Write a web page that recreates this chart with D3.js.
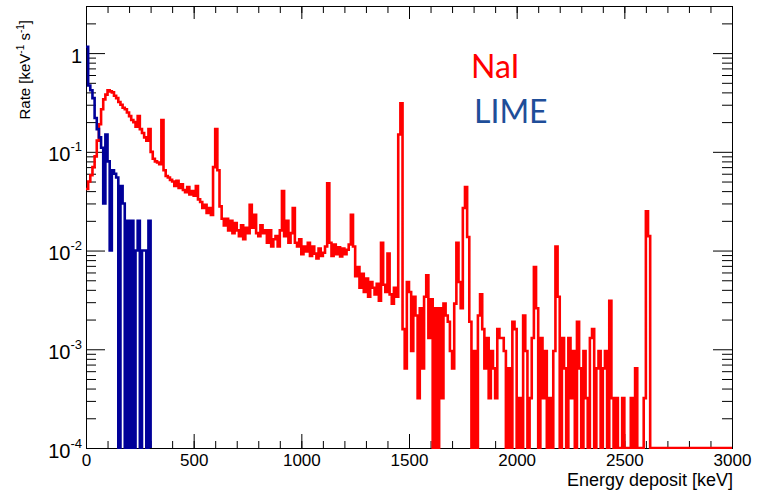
<!DOCTYPE html>
<html><head><meta charset="utf-8">
<script src="https://cdn.jsdelivr.net/npm/d3@7"></script>
<style>body{margin:0;background:#fff}svg{display:block}</style>
</head><body>
<svg id="chart" width="762" height="490"></svg>
<script>
// ---------------- data ----------------
const binWidth = 10; // keV
const naiRate = [
 0.042,0.05,0.058,0.07,0.09,0.13,0.19,0.27,0.34,0.38,
 0.42,0.41,0.40,0.37,0.35,0.32,0.30,0.28,0.27,0.25,
 0.23,0.21,0.20,0.18,0.23,0.17,0.155,0.14,0.13,0.17,
 0.10,0.085,0.08,0.078,0.075,0.21,0.065,0.057,0.055,0.052,
 0.05,0.045,0.051,0.043,0.047,0.041,0.039,0.044,0.037,0.04,
 0.036,0.045,0.033,0.031,0.027,0.029,0.024,0.027,0.023,0.07,
 0.17,0.065,0.028,0.021,0.018,0.021,0.016,0.02,0.015,0.019,
 0.016,0.014,0.018,0.013,0.017,0.015,0.029,0.017,0.023,0.015,
 0.014,0.018,0.015,0.016,0.012,0.016,0.011,0.013,0.014,0.011,
 0.016,0.04,0.014,0.02,0.012,0.015,0.027,0.012,0.011,0.013,
 0.0092,0.011,0.0098,0.012,0.0088,0.011,0.0093,0.0083,0.0105,0.0088,
 0.0095,0.011,0.048,0.012,0.0088,0.0115,0.0092,0.0108,0.0087,0.0105,
 0.0092,0.0102,0.0115,0.023,0.011,0.0055,0.0068,0.0042,0.0058,0.0038,
 0.0052,0.0034,0.0048,0.0042,0.0036,0.0046,0.0031,0.012,0.0045,0.0038,
 0.0093,0.0036,0.0029,0.0042,0.0034,0.15,0.31,0.0016,0.00064,0.0048,
 0.0038,0.00096,0.0034,0.0022,0.00032,0.0026,0.00064,0.0034,0.0056,0.0013,
 0.0032,0,0.0026,0,0.0026,0.00032,0.0029,0.0022,0.0019,0.00096,
 0.00064,0.0029,0.012,0.0048,0.0026,0.027,0.044,0.0137,0.0019,0,
 0.00096,0,0.0022,0.0036,0.0016,0.00064,0.0013,0.00032,0.00096,0.00064,
 0.00032,0.0016,0.0013,0.0013,0.00096,0,0.00064,0,0.0019,0.0016,
 0,0.00032,0,0.0022,0.00096,0,0.00032,0.0013,0.0068,0.0026,
 0,0.0013,0.00032,0.00096,0,0.00032,0,0.00096,0.011,0.0034,
 0,0.0013,0.00064,0,0.0013,0.00032,0.00096,0,0.0019,0.00064,
 0,0.00096,0.00032,0,0.0013,0.0016,0,0.00064,0.00096,0,
 0.00064,0.00096,0,0.0031,0.00032,0,0.00032,0,0,0.00032,
 0,0,0,0.00032,0,0.00064,0,0,0,0.00032,
 0.025,0.014,0,0,0,0,0,0,0,0,
 0,0,0,0,0,0,0,0,0,0,
 0,0,0,0,0,0,0,0,0,0,
 0,0,0,0,0,0,0,0,0,0
];
const limeRate = [
 1.16,0.47,0.42,0.35,0.22,0.17,0.14,0.11,0.03,0.15,
 0.08,0.01,0.065,0.06,0.055,0,0.045,0.03,0,0.02,
 0,0.02,0,0.01,0.02,0,0.01,0.01,0,0.02
];
const seriesNames = ["NaI","LIME"];
const xMajorTicks = [0,500,1000,1500,2000,2500,3000];
const xTickLabels = ["0","500","1000","1500","2000","2500","3000"];
const yMajorTicks = [1e-4,1e-3,1e-2,1e-1,1];
const yTickLabels = [["10","-4"],["10","-3"],["10","-2"],["10","-1"],["1",""]];
const xTitle = "Energy deposit [keV]";

// ---------------- chart ----------------
const L=86,R=732,T=6,B=448;
const yMin = 1e-4, yMax = 3;
const x = d3.scaleLinear().domain([0,3000]).range([L,R]);
const y = d3.scaleLog().domain([yMin,yMax]).range([B,T]);
const svg = d3.select("#chart");
const font = "'Liberation Sans', Arial, Helvetica, sans-serif";

svg.append("defs").append("clipPath").attr("id","clip")
  .append("rect").attr("x",L).attr("y",T).attr("width",R-L).attr("height",B-T+1);

const xMinor = d3.range(0,3001,100);
const yMinor = [];
for (let k=-4;k<=0;k++) for (let m=2;m<=9;m++){ const v=m*Math.pow(10,k); if(v<=yMax) yMinor.push(v); }

function clean(g){ g.select(".domain").remove(); g.selectAll("line").attr("stroke","#000"); }

// bottom
const gb = svg.append("g").attr("transform",`translate(0,${B})`);
gb.append("g").call(d3.axisBottom(x).tickValues(xMinor).tickSize(-7).tickFormat("")).call(clean);
gb.append("g").call(d3.axisBottom(x).tickValues(xMajorTicks).tickSize(-14).tickPadding(6)
   .tickFormat((d,i)=>xTickLabels[i])).call(clean)
   .selectAll("text").attr("font-family",font).attr("font-size",17).attr("fill","#000");
// top
const gt = svg.append("g").attr("transform",`translate(0,${T})`);
gt.append("g").call(d3.axisTop(x).tickValues(xMinor).tickSize(-7).tickFormat("")).call(clean);
gt.append("g").call(d3.axisTop(x).tickValues(xMajorTicks).tickSize(-13).tickFormat("")).call(clean);
// left
const gl = svg.append("g").attr("transform",`translate(${L},0)`);
gl.append("g").call(d3.axisLeft(y).tickValues(yMinor).tickSize(-10).tickFormat("")).call(clean);
gl.append("g").call(d3.axisLeft(y).tickValues(yMajorTicks).tickSize(-19).tickFormat("")).call(clean);
// right
const gr = svg.append("g").attr("transform",`translate(${R},0)`);
gr.append("g").call(d3.axisRight(y).tickValues(yMinor).tickSize(-10).tickFormat("")).call(clean);
gr.append("g").call(d3.axisRight(y).tickValues(yMajorTicks).tickSize(-19).tickFormat("")).call(clean);

// frame
svg.append("rect").attr("x",L+0.5).attr("y",T+0.5).attr("width",R-L).attr("height",B-T)
  .attr("fill","none").attr("stroke","#000").attr("stroke-width",1);

// y labels
yMajorTicks.forEach((v,i)=>{
  const [base,exp] = yTickLabels[i];
  const t = svg.append("text").attr("x",82).attr("y",y(v)+9.5).attr("text-anchor","end")
    .attr("font-family",font).attr("font-size",20).attr("fill","#000");
  t.append("tspan").text(base);
  if (exp) t.append("tspan").attr("dy",-10).attr("font-size",13).text(exp);
});

// axis titles
svg.append("text").attr("x",733).attr("y",486).attr("text-anchor","end")
  .attr("font-family",font).attr("font-size",18).attr("fill","#000").text(xTitle);
const yt = svg.append("text").attr("transform","translate(30,20) rotate(-90)").attr("text-anchor","end")
  .attr("font-family",font).attr("font-size",15).attr("fill","#000");
yt.append("tspan").text("Rate [keV");
yt.append("tspan").attr("dy",-6).attr("font-size",10).text("-1");
yt.append("tspan").attr("dy",6).text(" s");
yt.append("tspan").attr("dy",-6).attr("font-size",10).text("-1");
yt.append("tspan").attr("dy",6).text("]");

// histograms
function histPoints(vals){
  const pts = vals.map((v,i)=>({e:i*binWidth, v}));
  pts.push({e:vals.length*binWidth, v:0});
  return pts;
}
const line = d3.line().x(d=>x(d.e)).y(d=>y(Math.max(d.v,yMin))).curve(d3.curveStepAfter);
const plot = svg.append("g").attr("clip-path","url(#clip)");
plot.append("path").datum(histPoints(naiRate)).attr("d",line)
  .attr("fill","none").attr("stroke","#ff0000").attr("stroke-width",2.6);
plot.append("path").datum(histPoints(limeRate)).attr("d",line)
  .attr("fill","none").attr("stroke","#000099").attr("stroke-width",2.6);

// legend
svg.append("text").attr("x",471).attr("y",78).attr("font-family","Lato, 'Open Sans', sans-serif")
  .attr("font-size",32).attr("fill","#ff0000").text(seriesNames[0]);
svg.append("text").attr("x",474).attr("y",123).attr("font-family","Lato, 'Open Sans', sans-serif")
  .attr("font-size",32).attr("fill","#1f4e99").text(seriesNames[1]);
</script>
</body></html>
